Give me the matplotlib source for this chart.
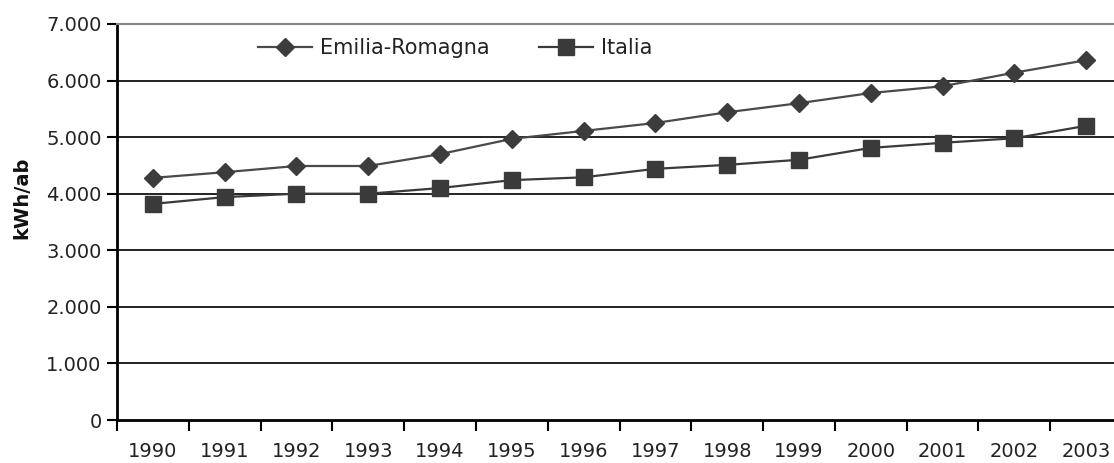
import matplotlib
matplotlib.use("Agg")
import matplotlib.pyplot as plt
from matplotlib.ticker import FixedLocator, FuncFormatter

years = ["1990", "1991", "1992", "1993", "1994", "1995", "1996",
         "1997", "1998", "1999", "2000", "2001", "2002", "2003"]
emilia_romagna = [4280, 4380, 4490, 4490, 4700, 4970, 5110,
                  5250, 5440, 5600, 5780, 5900, 6140, 6360]
italia = [3820, 3940, 4000, 4000, 4100, 4240, 4290,
          4440, 4510, 4600, 4810, 4900, 4980, 5200]
y_ticks = [0, 1000, 2000, 3000, 4000, 5000, 6000, 7000]

plt.rcParams['font.family'] = ['DejaVu Sans']

W, H = 1114, 463
fig = plt.figure(figsize=(W / 100, H / 100), dpi=100)
fig.patch.set_facecolor('white')
ax = fig.add_axes([117 / W, (H - 420) / H, 1005 / W, 396 / H])

x = list(range(len(years)))
ax.plot(x, emilia_romagna, color='#4a4a4a', lw=1.6, marker='D', markersize=9,
        markerfacecolor='#3c3c3c', markeredgecolor='#3c3c3c', label='Emilia-Romagna', zorder=3)
ax.plot(x, italia, color='#3a3a3a', lw=1.6, marker='s', markersize=11.5,
        markerfacecolor='#3a3a3a', markeredgecolor='#3a3a3a', label='Italia', zorder=3)

ax.set_xlim(-0.5, len(years) - 0.5)
ax.set_ylim(0, 7000)

# y axis
ax.yaxis.set_major_locator(FixedLocator(y_ticks))
ax.yaxis.set_major_formatter(FuncFormatter(lambda v, p: f"{int(v):,}".replace(",", ".")))
ax.tick_params(axis='y', length=7, width=1.5, color='black', labelsize=14,
               labelcolor='#222222', pad=4)
for v in y_ticks[1:-1]:
    ax.axhline(v, color='#222222', lw=1.4, zorder=1)

# x axis: tick marks between categories, labels at centers
ax.xaxis.set_major_locator(FixedLocator([i - 0.5 for i in range(len(years) + 1)]))
ax.xaxis.set_major_formatter(FuncFormatter(lambda v, p: ""))
ax.xaxis.set_minor_locator(FixedLocator(x))
ax.set_xticklabels(years, minor=True)
ax.tick_params(axis='x', which='major', length=8, width=1.5, color='black')
ax.tick_params(axis='x', which='minor', length=0, labelsize=14,
               labelcolor='#222222', pad=16)

for s in ['left', 'bottom']:
    ax.spines[s].set_linewidth(2)
    ax.spines[s].set_color('black')
ax.spines['right'].set_visible(False)
ax.spines['top'].set_color('#888888')
ax.spines['top'].set_linestyle((0, (1, 1)))
ax.spines['top'].set_linewidth(1.5)

fig.text(22 / W, 1 - 198 / H, "kWh/ab", rotation=90, ha='center', va='center',
         fontsize=14, fontweight='bold', color='#111111')

leg = ax.legend(loc='center', bbox_to_anchor=(455 / W, 1 - 48 / H),
                bbox_transform=fig.transFigure, ncol=2, frameon=False,
                fontsize=15, handlelength=2.6, handletextpad=0.35,
                columnspacing=2.4, labelcolor='#222222')

fig.savefig("out.png", dpi=100, facecolor='white')
